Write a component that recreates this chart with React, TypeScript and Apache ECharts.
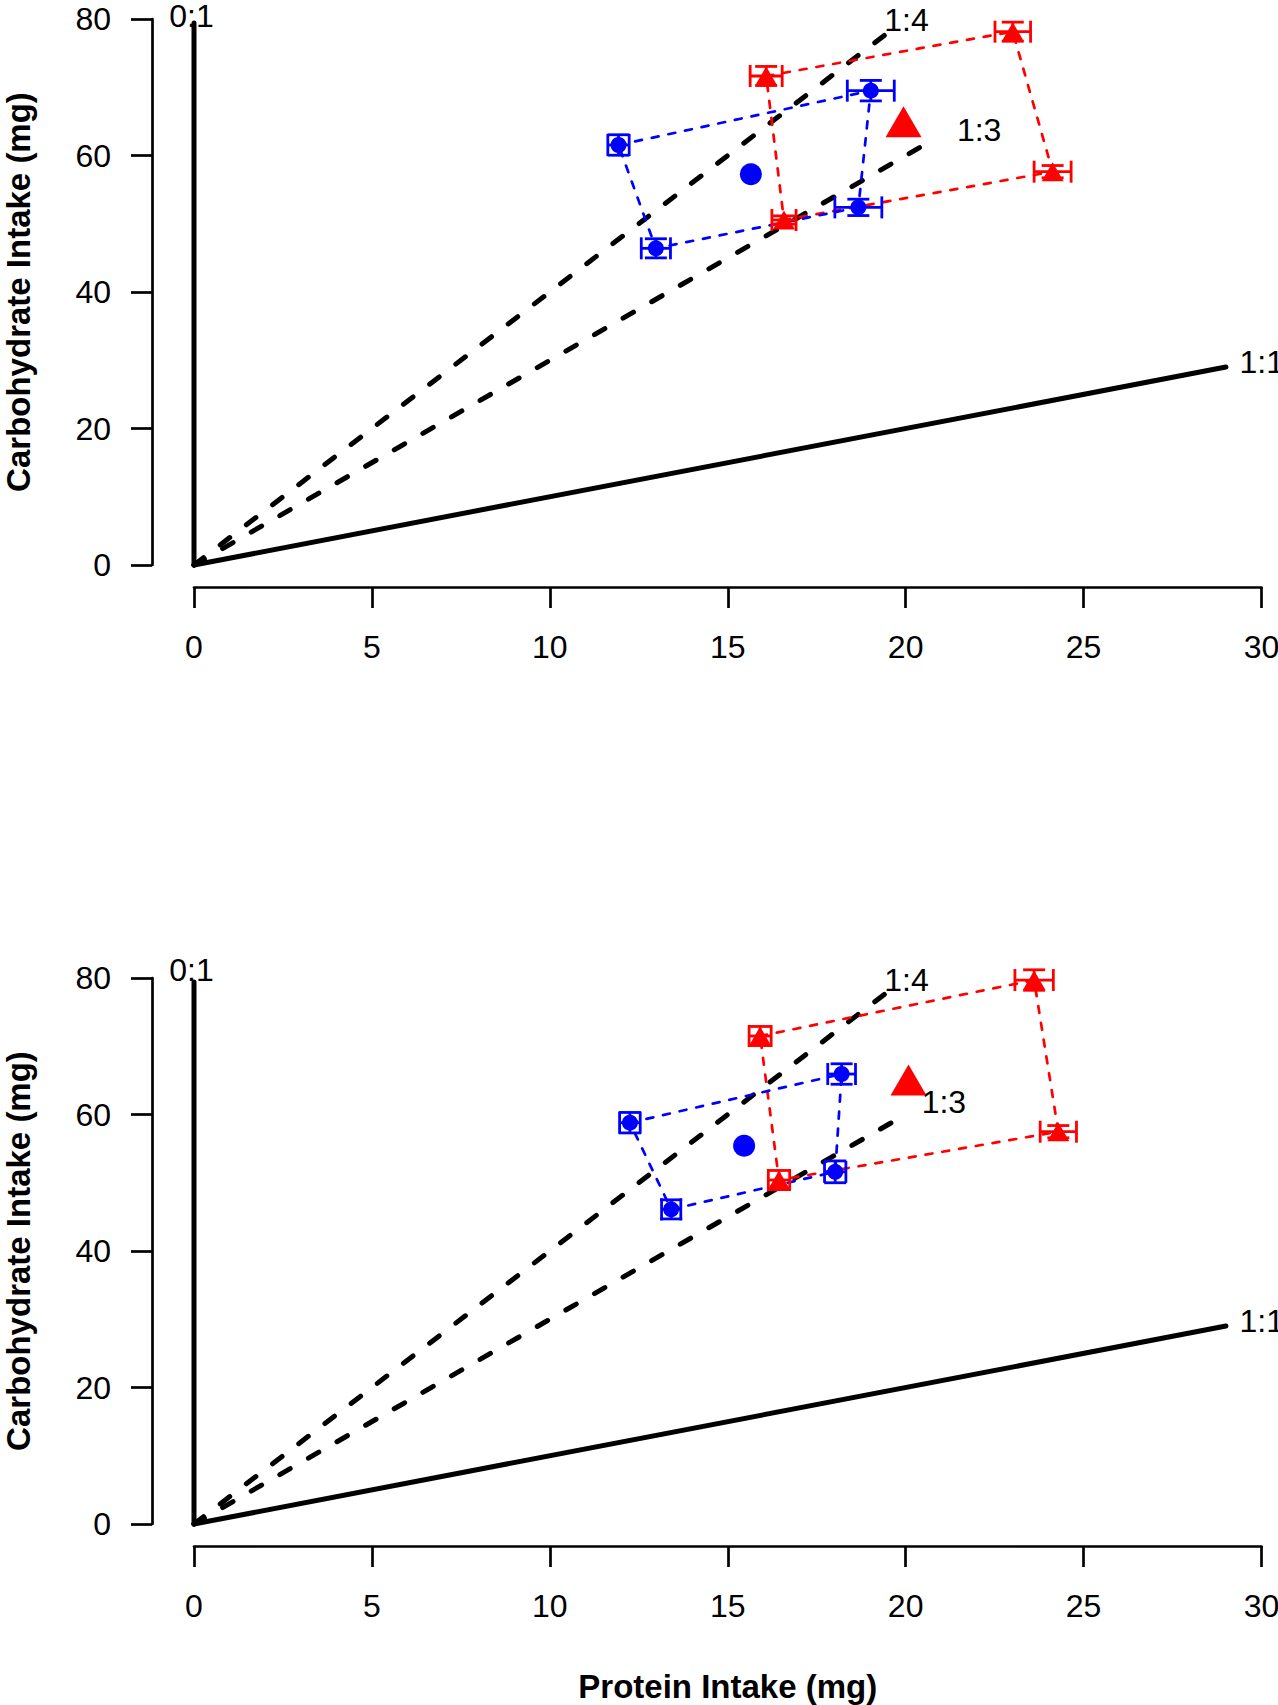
import React, { useEffect, useRef } from "react";
import * as echarts from "echarts";

// ---------- data ----------
const xMin = 0;
const xMax = 30;
const xStep = 5;
const yMin = 0;
const yMax = 80;
const yStep = 20;

const xTitle = "Protein Intake (mg)";
const yTitle = "Carbohydrate Intake (mg)";

// reference ratio rails [x, y]
const rail01 = [[0, 0], [0, 79.4]];
const rail11 = [[0, 0], [29, 29]];
const rail14Top = [[0, 0], [19.45, 77.8]];
const rail13Top = [[0, 0], [20.64, 61.9]];
const rail14Bottom = [[0, 0], [19.45, 77.8]];
const rail13Bottom = [[0, 0], [19.8, 59.4]];

// rail labels: [x, y, text, align]
const railLabelsTop = [
  [-0.07, 80.45, "0:1", "center"],
  [19.4, 79.85, "1:4", "left"],
  [21.44, 63.7, "1:3", "left"],
  [29.38, 29.7, "1:1", "left"],
];
const railLabelsBottom = [
  [-0.07, 81.2, "0:1", "center"],
  [19.4, 79.7, "1:4", "left"],
  [20.45, 61.9, "1:3", "left"],
  [29.38, 29.8, "1:1", "left"],
];

// treatment points: [x, y, xErr, yErr]
const redTop = [
  [16.08, 71.65, 0.45, 1.4],
  [23.01, 78.14, 0.5, 1.4],
  [24.13, 57.63, 0.52, 0.9],
  [16.58, 50.55, 0.34, 0.6],
];
const blueTop = [
  [11.93, 61.54, 0.3, 1.5],
  [19.02, 69.5, 0.66, 1.5],
  [18.67, 52.4, 0.66, 1.2],
  [12.98, 46.4, 0.41, 1.4],
];
const redMeanTop = [19.94, 64.96];
const blueMeanTop = [15.65, 57.24];

const redBottom = [
  [15.91, 71.5, 0.31, 1.4],
  [23.61, 79.7, 0.54, 1.5],
  [24.29, 57.48, 0.51, 0.9],
  [16.44, 50.4, 0.3, 1.4],
];
const blueBottom = [
  [12.25, 58.8, 0.29, 1.5],
  [18.2, 65.93, 0.39, 1.5],
  [18.02, 51.6, 0.3, 1.6],
  [13.41, 46.1, 0.27, 1.4],
];
const redMeanBottom = [20.08, 65.05];
const blueMeanBottom = [15.46, 55.43];

// ---------- styling ----------
const FONT = "'Liberation Sans', Arial, Helvetica, sans-serif";
const RED = "#ff0000";
const BLUE = "#0000ff";
const TICK_FS = 32;
const TITLE_FS = 33;

// panel geometry (px)
const PLOT_LEFT = 194;
const PLOT_W = 1067.5;
const PLOT_H = 546;
const PANEL_TOPS = [19, 978];
const X_OFFSET = 22;
const Y_OFFSET = 42;

function errorBarSeries(idx: number, data: number[][], color: string) {
  return {
    type: "custom",
    xAxisIndex: idx,
    yAxisIndex: idx,
    z: 4,
    clip: false,
    silent: true,
    encode: { x: 0, y: 1 },
    data,
    renderItem: (_params: any, api: any) => {
      const x = api.value(0);
      const y = api.value(1);
      const xe = api.value(2);
      const ye = api.value(3);
      const l = api.coord([x - xe, y]);
      const r = api.coord([x + xe, y]);
      const b = api.coord([x, y - ye]);
      const t = api.coord([x, y + ye]);
      const cap = 11;
      const st = { stroke: color, lineWidth: 2.8 };
      const mk = (x1: number, y1: number, x2: number, y2: number) => ({
        type: "line",
        shape: { x1, y1, x2, y2 },
        style: st,
      });
      return {
        type: "group",
        children: [
          mk(l[0], l[1], r[0], r[1]),
          mk(l[0], l[1] - cap, l[0], l[1] + cap),
          mk(r[0], r[1] - cap, r[0], r[1] + cap),
          mk(b[0], b[1], t[0], t[1]),
          mk(b[0] - cap, b[1], b[0] + cap, b[1]),
          mk(t[0] - cap, t[1], t[0] + cap, t[1]),
        ],
      };
    },
  };
}

function panelSeries(
  idx: number,
  rail14: number[][],
  rail13: number[][],
  labels: any[][],
  red: number[][],
  blue: number[][],
  redMean: number[],
  blueMean: number[]
) {
  const base = { xAxisIndex: idx, yAxisIndex: idx, silent: true };
  const solid = (d: number[][]) => ({
    ...base,
    type: "line",
    data: d,
    symbol: "none",
    z: 1,
    clip: false,
    lineStyle: { color: "#000", width: 5, cap: "round" },
  });
  const dashedBlack = (d: number[][]) => ({
    ...base,
    type: "line",
    data: d,
    symbol: "none",
    z: 1,
    clip: false,
    lineStyle: { color: "#000", width: 5, type: [12, 21], cap: "round" },
  });
  const ring = (pts: number[][], color: string) => ({
    ...base,
    type: "line",
    data: [...pts.map((p) => [p[0], p[1]]), [pts[0][0], pts[0][1]]],
    symbol: "none",
    z: 2,
    clip: false,
    lineStyle: { color, width: 2.7, type: [7, 10], cap: "round" },
  });
  const dots = (d: number[][], symbol: string, size: any) => ({
    ...base,
    type: "scatter",
    clip: false,
    data: d,
    symbol,
    symbolSize: size,
    z: 5,
  });
  return [
    solid(rail01),
    solid(rail11),
    dashedBlack(rail14),
    dashedBlack(rail13),
    ring(red, RED),
    ring(blue, BLUE),
    errorBarSeries(idx, red, RED),
    errorBarSeries(idx, blue, BLUE),
    { ...dots(red.map((p) => [p[0], p[1]]), "triangle", [22, 19]), itemStyle: { color: RED, opacity: 1 } },
    { ...dots(blue.map((p) => [p[0], p[1]]), "circle", 16), itemStyle: { color: BLUE, opacity: 1 } },
    { ...dots([redMean], "triangle", [36, 31]), itemStyle: { color: RED, opacity: 1 } },
    { ...dots([blueMean], "circle", 22), itemStyle: { color: BLUE, opacity: 1 } },
    {
      ...base,
      type: "scatter",
      clip: false,
      symbolSize: 0,
      z: 6,
      itemStyle: { opacity: 0 },
      data: labels.map((l) => ({
        value: [l[0], l[1]],
        label: {
          show: true,
          formatter: l[2],
          position: "inside",
          align: l[3],
          verticalAlign: "middle",
          color: "#000",
          opacity: 1,
          fontSize: TICK_FS,
          lineHeight: 24,
          fontFamily: FONT,
        },
      })),
    },
  ];
}

const axisStroke = { color: "#000", width: 2.7 };
const titleStyle = {
  fontFamily: FONT,
  fontSize: TITLE_FS,
  fontWeight: "bold",
  color: "#000",
  lineHeight: 28,
};

function hiddenX(gridIndex: number) {
  return { gridIndex, type: "value", min: xMin, max: xMax, interval: xStep, show: false, splitLine: { show: false } };
}
function hiddenY(gridIndex: number) {
  return { gridIndex, type: "value", min: yMin, max: yMax, interval: yStep, show: false, splitLine: { show: false } };
}
function visibleX(gridIndex: number, withName: boolean) {
  return {
    gridIndex,
    type: "value",
    min: xMin,
    max: xMax,
    interval: xStep,
    name: withName ? xTitle : "",
    nameLocation: "middle",
    nameGap: 126,
    nameTextStyle: titleStyle,
    axisLine: { show: true, lineStyle: axisStroke },
    axisTick: { show: true, inside: false, length: 21, lineStyle: axisStroke },
    axisLabel: { margin: 44, fontSize: TICK_FS, fontFamily: FONT, color: "#000" },
    splitLine: { show: false },
  };
}
function visibleY(gridIndex: number) {
  return {
    gridIndex,
    type: "value",
    min: yMin,
    max: yMax,
    interval: yStep,
    name: yTitle,
    nameLocation: "middle",
    nameGap: 120,
    nameTextStyle: titleStyle,
    axisLine: { show: true, lineStyle: axisStroke },
    axisTick: { show: true, inside: false, length: 21, lineStyle: axisStroke },
    axisLabel: { margin: 41, fontSize: TICK_FS, fontFamily: FONT, color: "#000" },
    splitLine: { show: false },
  };
}

export default function App() {
  const ref = useRef<HTMLDivElement>(null);
  useEffect(() => {
    if (!ref.current) return;
    const chart = echarts.init(ref.current, undefined, { renderer: "svg" });
    const gridBase = { outerBoundsMode: "none", containLabel: false, width: PLOT_W, height: PLOT_H };
    const grids: any[] = [];
    const xAxes: any[] = [];
    const yAxes: any[] = [];
    // data grids: 0, 1
    PANEL_TOPS.forEach((top, i) => {
      grids.push({ ...gridBase, left: PLOT_LEFT, top });
      xAxes.push(hiddenX(i));
      yAxes.push(hiddenY(i));
    });
    // x-axis grids (shifted down): 2, 3
    PANEL_TOPS.forEach((top, i) => {
      grids.push({ ...gridBase, left: PLOT_LEFT, top: top + X_OFFSET });
      xAxes.push(visibleX(2 + i, i === 1));
      yAxes.push(hiddenY(2 + i));
    });
    // y-axis grids (shifted left): 4, 5
    PANEL_TOPS.forEach((top, i) => {
      grids.push({ ...gridBase, left: PLOT_LEFT - Y_OFFSET, top });
      xAxes.push(hiddenX(4 + i));
      yAxes.push(visibleY(4 + i));
    });

    chart.setOption({
      animation: false,
      backgroundColor: "#fff",
      grid: grids,
      xAxis: xAxes,
      yAxis: yAxes,
      series: [
        ...panelSeries(0, rail14Top, rail13Top, railLabelsTop, redTop, blueTop, redMeanTop, blueMeanTop),
        ...panelSeries(
          1,
          rail14Bottom,
          rail13Bottom,
          railLabelsBottom,
          redBottom,
          blueBottom,
          redMeanBottom,
          blueMeanBottom
        ),
      ],
    });
    return () => chart.dispose();
  }, []);
  return (
    <div
      ref={ref}
      style={{ position: "absolute", left: 0, top: 0, width: 1278, height: 1705, background: "#fff" }}
    />
  );
}
